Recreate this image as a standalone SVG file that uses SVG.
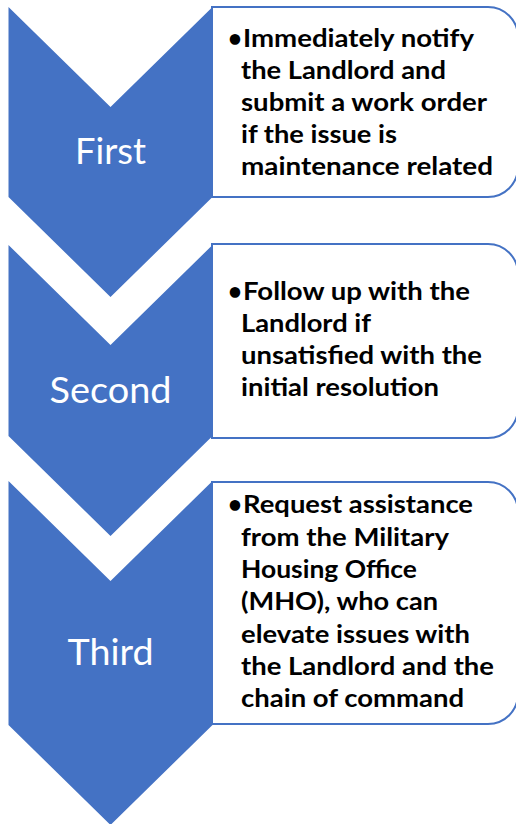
<svg xmlns="http://www.w3.org/2000/svg" width="516" height="824" viewBox="0 0 516 824">
  <style>
    .chev { fill: #4472C4; }
    .box { fill: #FFFFFF; stroke: #4472C4; stroke-width: 2; }
    .lbl { font-family: Lato, "Open Sans", sans-serif; font-size: 36px; fill: #FFFFFF; text-anchor: middle; }
    .txt { font-family: Lato, "Open Sans", sans-serif; font-size: 24px; font-weight: bold; fill: #000000; }
  </style>
  <rect width="516" height="824" fill="#FFFFFF"/>
  <g id="connectors"/>
  <g id="step1">
    <polygon class="chev" points="8.5,7 110.5,107 212.5,7 212.5,197 110.5,297 8.5,197"/>
    <path class="box" d="M212,7 H488 A30,30 0 0 1 518,37 V167 A30,30 0 0 1 488,197 H212 Z"/>
    <text class="lbl" x="110.5" y="164" textLength="71" lengthAdjust="spacingAndGlyphs">First</text>
    <text class="txt" x="228" y="47">•</text>
    <text class="txt" x="243" y="47" textLength="231" lengthAdjust="spacingAndGlyphs">Immediately notify</text>
    <text class="txt" x="241" y="79" textLength="205" lengthAdjust="spacingAndGlyphs">the Landlord and</text>
    <text class="txt" x="241" y="111" textLength="246" lengthAdjust="spacingAndGlyphs">submit a work order</text>
    <text class="txt" x="241" y="143" textLength="156" lengthAdjust="spacingAndGlyphs">if the issue is</text>
    <text class="txt" x="241" y="175" textLength="252" lengthAdjust="spacingAndGlyphs">maintenance related</text>
  </g>
  <g id="step2">
    <polygon class="chev" points="8.5,245 110.5,345 212.5,245 212.5,436 110.5,536 8.5,436"/>
    <path class="box" d="M212,244 H488 A30,30 0 0 1 518,274 V408 A30,30 0 0 1 488,438 H212 Z"/>
    <text class="lbl" x="110.5" y="403" textLength="122" lengthAdjust="spacingAndGlyphs">Second</text>
    <text class="txt" x="228" y="300">•</text>
    <text class="txt" x="243" y="300" textLength="227" lengthAdjust="spacingAndGlyphs">Follow up with the</text>
    <text class="txt" x="241" y="332" textLength="130" lengthAdjust="spacingAndGlyphs">Landlord if</text>
    <text class="txt" x="241" y="364" textLength="241" lengthAdjust="spacingAndGlyphs">unsatisfied with the</text>
    <text class="txt" x="241" y="396" textLength="198" lengthAdjust="spacingAndGlyphs">initial resolution</text>
  </g>
  <g id="step3">
    <polygon class="chev" points="8.5,481 110.5,581 212.5,481 212.5,725 110.5,825 8.5,725"/>
    <path class="box" d="M212,482 H488 A30,30 0 0 1 518,512 V694 A30,30 0 0 1 488,724 H212 Z"/>
    <text class="lbl" x="110.5" y="665" textLength="86" lengthAdjust="spacingAndGlyphs">Third</text>
    <text class="txt" x="228" y="513">•</text>
    <text class="txt" x="243" y="513" textLength="230" lengthAdjust="spacingAndGlyphs">Request assistance</text>
    <text class="txt" x="241" y="546" textLength="208" lengthAdjust="spacingAndGlyphs">from the Military</text>
    <text class="txt" x="241" y="578" textLength="176" lengthAdjust="spacingAndGlyphs">Housing Office</text>
    <text class="txt" x="241" y="610" textLength="197" lengthAdjust="spacingAndGlyphs">(MHO), who can</text>
    <text class="txt" x="241" y="643" textLength="229" lengthAdjust="spacingAndGlyphs">elevate issues with</text>
    <text class="txt" x="241" y="675" textLength="253" lengthAdjust="spacingAndGlyphs">the Landlord and the</text>
    <text class="txt" x="241" y="707" textLength="223" lengthAdjust="spacingAndGlyphs">chain of command</text>
  </g>
</svg>
